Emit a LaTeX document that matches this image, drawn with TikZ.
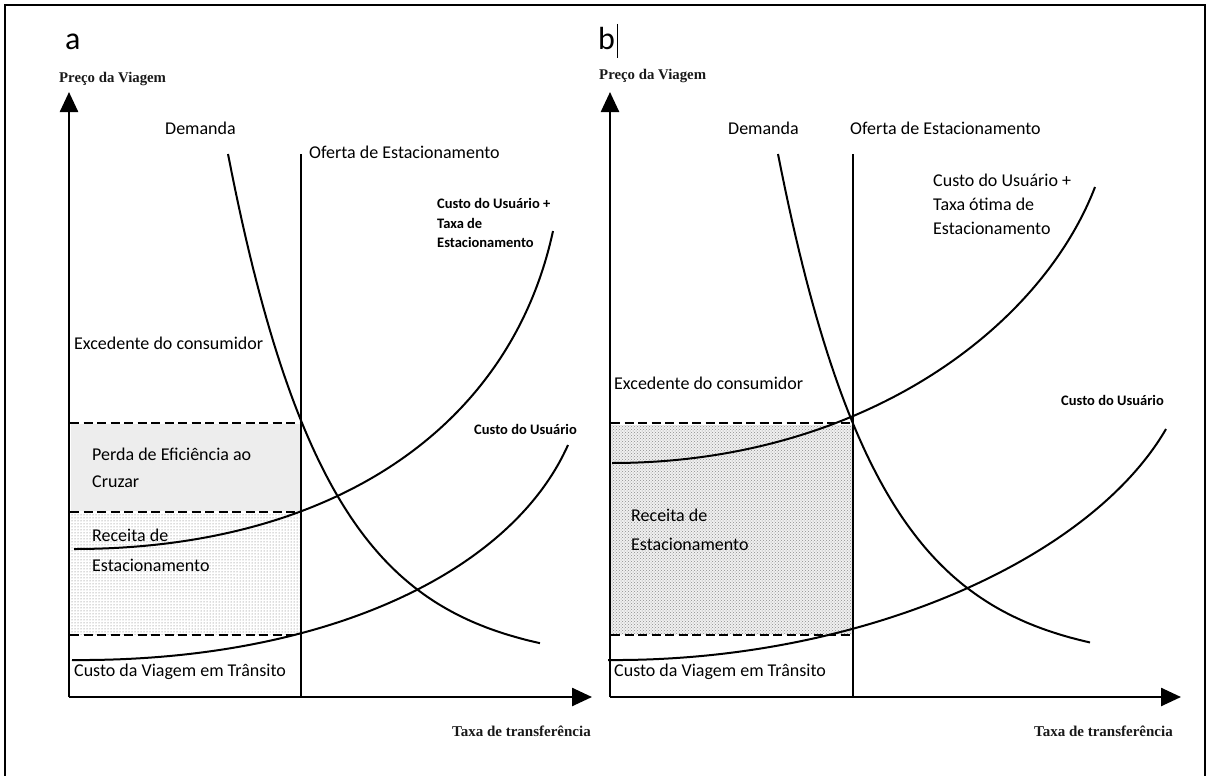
\documentclass[tikz,border=0pt]{standalone}
\usepackage{fontspec}
\newfontfamily\calfont{Carlito}
\newfontfamily\serfont{Liberation Serif}
\usetikzlibrary{arrows.meta,patterns}
\tikzset{
  axisline/.style={line width=2.5pt, -{Triangle[length=20pt,width=18pt]}},
  curveline/.style={line width=2pt},
  supplyline/.style={line width=1.8pt},
  dashline/.style={line width=2pt, dash pattern=on 9pt off 4.5pt},
  lbl/.style={font=\calfont\fontsize{18}{22}\selectfont, inner sep=0pt, anchor=base west},
  sml/.style={font=\calfont\bfseries\fontsize{14.5}{19}\selectfont, inner sep=0pt, anchor=base west},
  axlbl/.style={font=\serfont\bfseries\fontsize{14.8}{17}\selectfont, inner sep=0pt, anchor=base west, text=black!90},
  panel/.style={font=\calfont\fontsize{32}{36}\selectfont, inner sep=0pt, anchor=base west}
}
\begin{document}
\begin{tikzpicture}[x=1pt,y=-1pt]
\useasboundingbox (0,0) rectangle (1207,776);
% frame
\draw[line width=2pt] (5,790) -- (5,5) -- (1205,5) -- (1205,790);

% ===================== Panel a =====================
\fill[black!7] (71,424) rectangle (300,511);
\fill[pattern=dots, pattern color=black!60] (71,513) rectangle (300,634);

\coordinate (oa) at (69,697);
\coordinate (ya) at (69,92);
\coordinate (xa) at (592,697);
\coordinate (sa1) at (301,154);
\coordinate (sa0) at (301,697);
\coordinate (da1) at (70,423);
\coordinate (da2) at (301,423);
\coordinate (db1) at (70,512);
\coordinate (db2) at (301,512);
\coordinate (dc1) at (70,635);
\coordinate (dc2) at (301,635);

\draw[dashline] (da1) -- (da2);
\draw[dashline] (db1) -- (db2);
\draw[dashline] (dc1) -- (dc2);
\draw[supplyline] (sa1) -- (sa0);

% demand a
\draw[curveline] plot[domain=228:540, samples=90] (\x, {665 - 511*exp(-(\x-228)/99)});
% user cost + fee a
\draw[curveline] (74,549) .. controls (330,549) and (510,430) .. (553,231);
% user cost a
\draw[curveline] (72,660) .. controls (320,662) and (510,575) .. (568,445);

\draw[axisline] (oa) -- (ya);
\draw[axisline] (oa) -- (xa);

\node[panel] (la) at (65,50) {a};
\node[axlbl] (pa) at (59,82) {Preço da Viagem};
\node[axlbl, font=\serfont\bfseries\fontsize{15}{17}\selectfont] (ta) at (452,736) {Taxa de transferência};
\node[lbl] (dema) at (165,134) {Demanda};
\node[lbl] (ofa) at (309,158) {Oferta de Estacionamento};
\node[lbl] (exa) at (74,349) {Excedente do consumidor};
\node[lbl] (pea) at (92,460) {Perda de Eficiência ao};
\node[lbl] (cra) at (92,487) {Cruzar};
\node[lbl] (rea) at (92,541) {Receita de};
\node[lbl] (esa) at (92,571) {Estacionamento};
\node[lbl] (cva) at (74,676) {Custo da Viagem em Trânsito};
\node[sml] (cua1) at (437,208) {Custo do Usuário +};
\node[sml] (cua2) at (437,228) {Taxa de};
\node[sml] (cua3) at (437,247) {Estacionamento};
\node[sml] (cua) at (474,434) {Custo do Usuário};

% ===================== Panel b =====================
\fill[black!6] (611,425) rectangle (852,634);
\fill[pattern=crosshatch dots, pattern color=black!45] (611,425) rectangle (852,634);

\coordinate (ob) at (610,697);
\coordinate (yb) at (610,92);
\coordinate (xb) at (1181,697);
\coordinate (sb1) at (853,154);
\coordinate (sb0) at (853,697);
\coordinate (ea1) at (611,423);
\coordinate (ea2) at (853,423);
\coordinate (eb1) at (611,635);
\coordinate (eb2) at (853,635);

\draw[dashline] (ea1) -- (ea2);
\draw[dashline] (eb1) -- (eb2);
\draw[supplyline] (sb1) -- (sb0);

% demand b
\draw[curveline] plot[domain=778:1090, samples=90] (\x, {665 - 511*exp(-(\x-778)/100)});
% user cost + optimal fee b
\draw[curveline] (612,463) .. controls (860,463) and (1040,330) .. (1095,187);
% user cost b
\draw[curveline] (608,660) .. controls (860,662) and (1090,560) .. (1166,429);

\draw[axisline] (ob) -- (yb);
\draw[axisline] (ob) -- (xb);

\node[panel] (lb) at (598,50) {b};
\coordinate (cur1) at (617,24);
\coordinate (cur2) at (617,58);
\draw[line width=1pt] (cur1) -- (cur2);
\node[axlbl] (pb) at (599,79) {Preço da Viagem};
\node[axlbl, font=\serfont\bfseries\fontsize{15}{17}\selectfont] (tb) at (1034,736) {Taxa de transferência};
\node[lbl] (demb) at (728,134) {Demanda};
\node[lbl] (ofb) at (850,134) {Oferta de Estacionamento};
\node[lbl] (exb) at (614,389) {Excedente do consumidor};
\node[lbl] (reb) at (631,521) {Receita de};
\node[lbl] (esb) at (631,550) {Estacionamento};
\node[lbl] (cvb) at (614,676) {Custo da Viagem em Trânsito};
\node[lbl] (cub1) at (933,186) {Custo do Usuário +};
\node[lbl] (cub2) at (933,210) {Taxa ótima de};
\node[lbl] (cub3) at (933,234) {Estacionamento};
\node[sml] (cub) at (1061,405) {Custo do Usuário};
\end{tikzpicture}
\end{document}
